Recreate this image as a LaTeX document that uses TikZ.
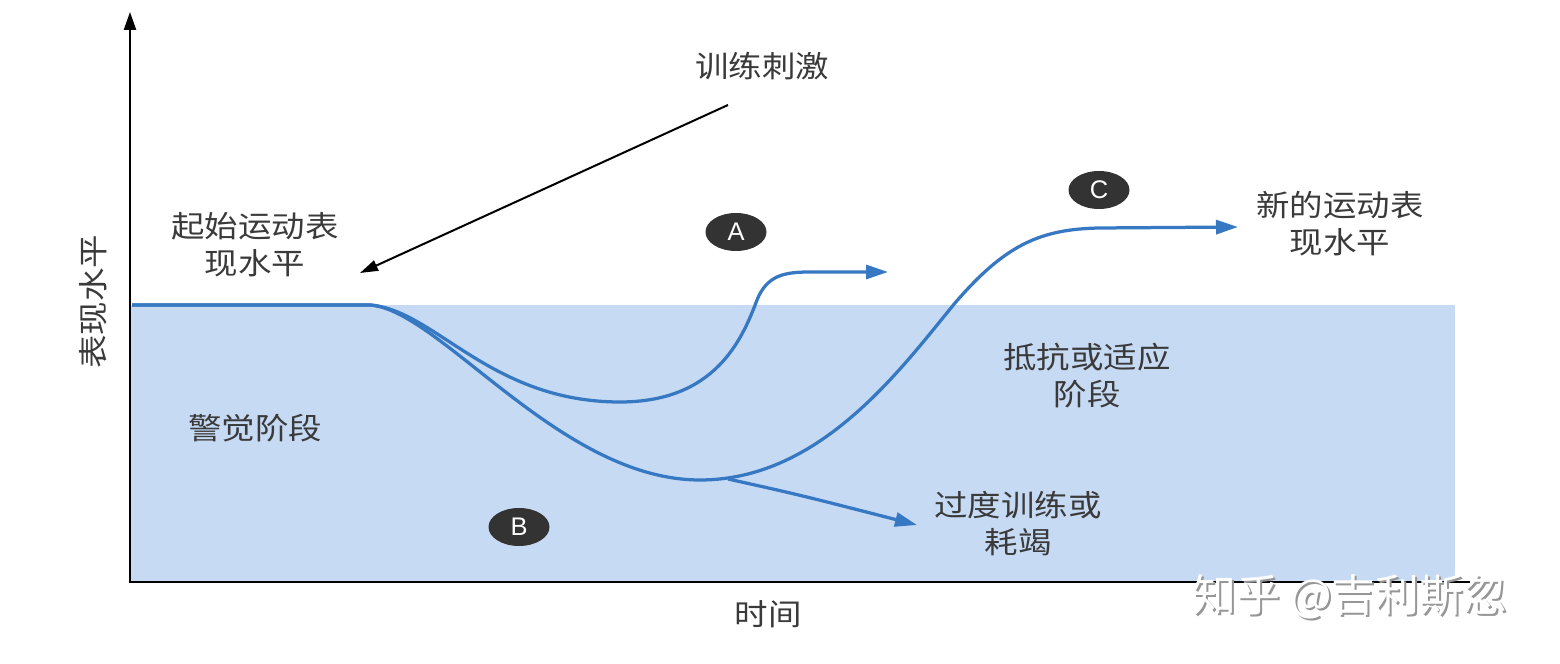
\documentclass[tikz,border=0pt]{standalone}
\usepackage{fontspec}
\setmainfont{Noto Sans CJK SC}[FakeStretch=1.12]
\newfontfamily\letterfont{Liberation Sans}
\newfontfamily\markfont{Noto Sans CJK SC}
\usetikzlibrary{arrows.meta,shapes.geometric}
\definecolor{phasefill}{RGB}{198,218,244}
\definecolor{curveblue}{RGB}{55,120,195}
\definecolor{labelgray}{RGB}{58,58,58}
\definecolor{markgray}{RGB}{150,150,150}
\def\stagecurve{\draw[curveblue, line width=0.65mm, -{Triangle[length=4.4mm,width=2.8mm]}]}

\begin{document}
\begin{tikzpicture}[x=0.2mm,y=-0.2mm,
  lbl/.style={text=labelgray, font=\fontsize{17}{21}\selectfont, align=center, inner sep=0pt},
  badge/.style={ellipse, fill=black!80, text=white, minimum width=12.2mm, minimum height=7.6mm, inner sep=0pt, font=\letterfont\fontsize{14.5}{14.5}\selectfont},
  wmark/.style={font=\markfont\fontsize{25}{25}\selectfont, inner sep=0pt}]
\useasboundingbox (0,0) rectangle (1560,664);
\fill[phasefill] (130,305) rectangle (1455,582);
\coordinate (O) at (130,582);
\coordinate (ytip) at (130,12);
\coordinate (xend) at (1470,582);
\draw[line width=0.5mm, {Triangle[length=3.6mm,width=2.4mm]}-] (ytip) -- (O) -- (xend);
\coordinate (start) at (132,305);
\coordinate (drop) at (370,305);
\coordinate (fork) at (728,479);
\coordinate (Aend) at (888,272);
\coordinate (Cend) at (1238,227);
\coordinate (Bend) at (917,525);
\stagecurve (start) -- (drop) .. controls (435,310) and (490,402) .. (620,402) .. controls (715,402) and (742,340) .. (757,300) .. controls (767,275) and (785,272) .. (810,272) -- (Aend);
\stagecurve (start) -- (drop) .. controls (440,310) and (560,480) .. (700,480) .. controls (820,480) and (900,370) .. (955,303) .. controls (1005,245) and (1040,229) .. (1100,228) -- (Cend);
\stagecurve (fork) .. controls (800,495) .. (Bend);
\coordinate (stimtail) at (728,105);
\coordinate (stimtip) at (360,273);
\draw[line width=0.4mm, -{Triangle[length=3.6mm,width=2.2mm]}] (stimtail) -- (stimtip);
\node[badge] (A) at (736,232) {A};
\node[badge] (B) at (519,527) {B};
\node[badge] (C) at (1099,190) {C};
\node[lbl] (stim) at (762,66) {训练刺激};
\node[lbl] (startlvl) at (255,245) {起始运动表\\现水平};
\node[lbl] (newlvl) at (1340,224) {新的运动表\\现水平};
\node[lbl] (resist) at (1087,376) {抵抗或适应\\阶段};
\node[lbl] (alarm) at (255,428) {警觉阶段};
\node[lbl] (over) at (1018,524) {过度训练或\\耗竭};
\node[lbl] (time) at (768,614) {时间};
\node[lbl, rotate=90] (perf) at (93,302) {表现水平};
\node[wmark, text=markgray] (markshadow) at (1352,599) {知乎 @吉利斯忽};
\node[wmark, text=white] (mark) at (1350,597) {知乎 @吉利斯忽};
\end{tikzpicture}
\end{document}
